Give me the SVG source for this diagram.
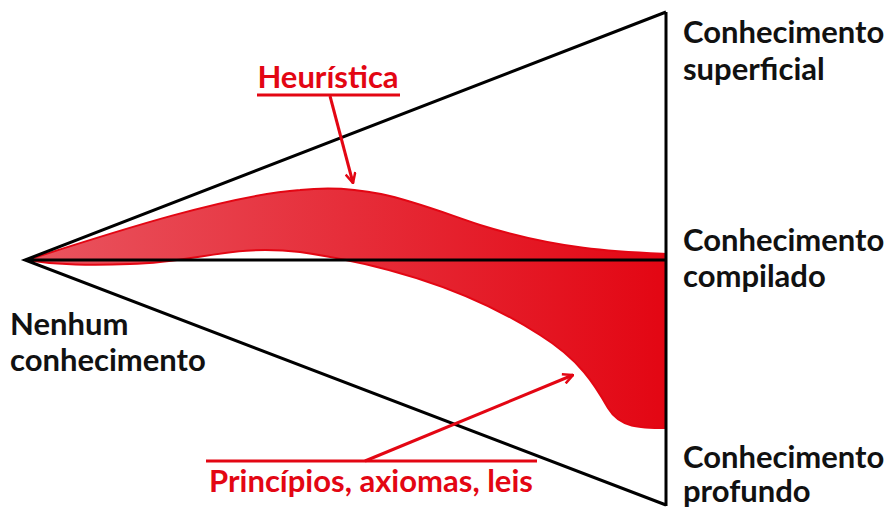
<svg xmlns="http://www.w3.org/2000/svg" width="886" height="510" viewBox="0 0 886 510">
<style>
.lbl{font-family:Lato,"Liberation Sans",sans-serif;font-weight:bold;font-size:31px;fill:#111}
.red{font-family:Lato,"Liberation Sans",sans-serif;font-weight:bold;font-size:31px;fill:#e30613}
.ln{stroke:#000;stroke-width:3;fill:none}
.rl{stroke:#e30613;stroke-width:3;fill:none}
</style>
<defs>
<linearGradient id="g" x1="0" y1="0" x2="1" y2="0">
<stop offset="0" stop-color="#e95560"/>
<stop offset="1" stop-color="#e30613"/>
</linearGradient>
<marker id="ah" viewBox="0 0 12 12" refX="11" refY="6" markerWidth="12" markerHeight="12" markerUnits="userSpaceOnUse" orient="auto">
<path d="M1,1 L11,6 L1,11" fill="none" stroke="#e30613" stroke-width="2.5"/>
</marker>
</defs>
<g id="shape">
<path d="M27,260 C120,230 230,195 300,190 C370,182 420,205 480,225 C560,250 620,252 666,254 L666,428 C640,428 620,428 608,408 C595,385 580,360 540,335 C470,290 390,265 300,252 C230,244 200,262 130,264 C80,266 50,264 27,260 Z" fill="url(#g)" stroke="#e30613" stroke-width="2"/>
</g>
<g id="triangle">
<path class="ln" d="M666,12 L25,260 L666,505 M25,260 L666,260 M666,12 L666,506"/>
</g>
<g id="connectors">
<path class="rl" d="M257,95 L400,95"/>
<path class="rl" d="M330,96 L353,183" marker-end="url(#ah)"/>
<path class="rl" d="M206,461 L537,461"/>
<path class="rl" d="M365,461 L573,375" marker-end="url(#ah)"/>
</g>
<g id="heuristica"><text class="red" x="328" y="88" text-anchor="middle">Heurística</text></g>
<g id="principios"><text class="red" x="371" y="492" text-anchor="middle">Princípios, axiomas, leis</text></g>
<g id="superficial"><text class="lbl" x="683" y="43">Conhecimento</text><text class="lbl" x="683" y="80">superficial</text></g>
<g id="compilado"><text class="lbl" x="683" y="251">Conhecimento</text><text class="lbl" x="683" y="287">compilado</text></g>
<g id="profundo"><text class="lbl" x="683" y="468">Conhecimento</text><text class="lbl" x="683" y="502">profundo</text></g>
<g id="nenhum"><text class="lbl" x="10" y="335">Nenhum</text><text class="lbl" x="10" y="371">conhecimento</text></g>
</svg>
